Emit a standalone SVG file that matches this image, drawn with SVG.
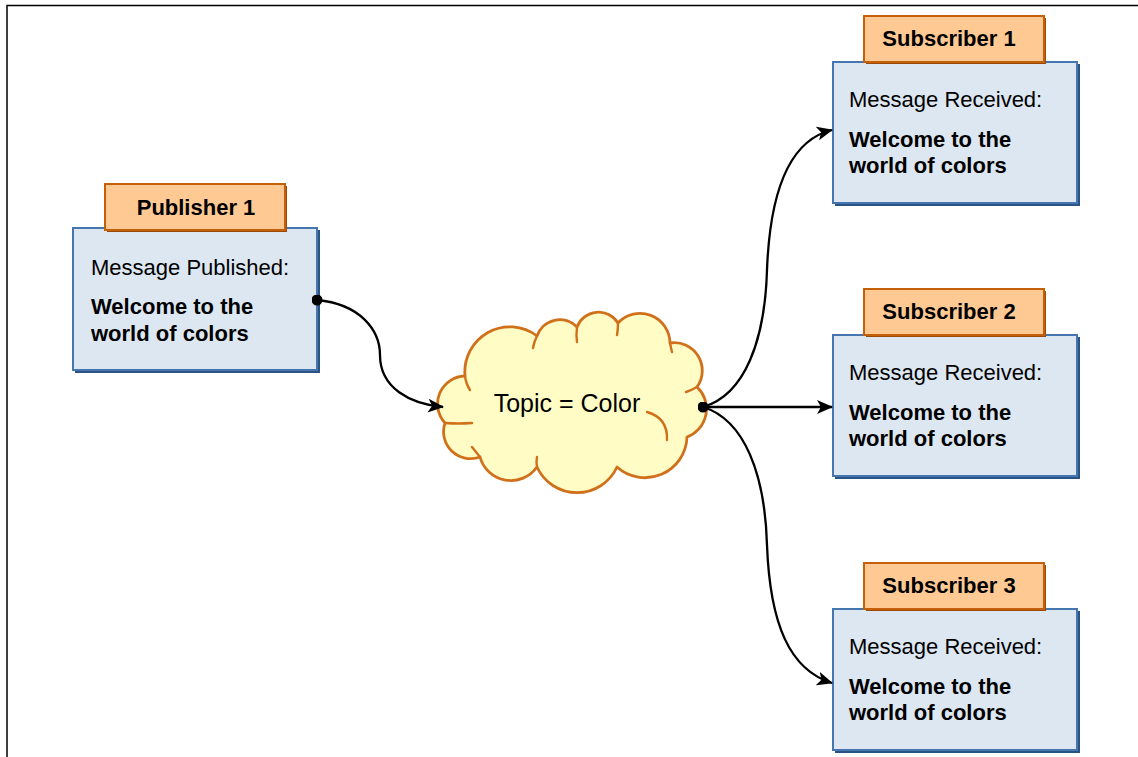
<svg xmlns="http://www.w3.org/2000/svg" width="1138" height="757" viewBox="0 0 1138 757">
  <style>
    .frame { fill: none; stroke: #000; stroke-width: 1.5; }
    .box { fill: #dde7f2; stroke: #4676b0; stroke-width: 2; }
    .box-shade { fill: #2b5383; }
    .tab { fill: #ffc994; stroke: #c5600a; stroke-width: 2; }
    .tab-shade { fill: #9c4a06; }
    .title { font-family: "Liberation Sans", Arial, sans-serif; font-size: 22px; font-weight: bold; fill: #000; text-anchor: middle; }
    .label { font-family: "Liberation Sans", Arial, sans-serif; font-size: 22px; fill: #000; }
    .msg { font-family: "Liberation Sans", Arial, sans-serif; font-size: 22px; font-weight: bold; fill: #000; }
    .cloud { fill: #fffcc6; stroke: #d0701a; stroke-width: 2.8; stroke-linejoin: round; }
    .cloud-line { fill: none; stroke: #d0701a; stroke-width: 2.4; stroke-linecap: round; }
    .topic { font-family: "Liberation Sans", Arial, sans-serif; font-size: 25px; fill: #000; text-anchor: middle; }
    .conn { fill: none; stroke: #000; stroke-width: 2.3; }
  </style>
  <defs>
    <marker id="arrow" viewBox="0 0 16 14" refX="15" refY="7" markerWidth="16" markerHeight="14" markerUnits="userSpaceOnUse" orient="auto">
      <path d="M0,0 L16,7 L0,14 L4,7 Z" fill="#000"/>
    </marker>
    <marker id="dot" viewBox="0 0 11 11" refX="5.5" refY="5.5" markerWidth="11" markerHeight="11" markerUnits="userSpaceOnUse">
      <circle cx="5.5" cy="5.5" r="5.5" fill="#000"/>
    </marker>
  </defs>

  <rect width="1138" height="757" fill="#fff"/>
  <path class="frame" d="M7,757 L7,5.5 L1138,5.5"/>

  <!-- Publisher -->
  <g id="publisher1">
    <rect class="box-shade" x="75" y="230" width="245" height="143"/>
    <rect class="box" x="73" y="228" width="244" height="142"/>
    <rect class="tab-shade" x="107" y="186" width="180" height="46"/>
    <rect class="tab" x="105" y="184" width="180" height="46"/>
    <text class="title" x="196" y="215">Publisher 1</text>
    <text class="label" x="91" y="275">Message Published:</text>
    <text class="msg" x="91" y="314">Welcome to the</text>
    <text class="msg" x="91" y="341">world of colors</text>
  </g>

  <!-- Topic cloud -->
  <g id="topic">
    <path class="cloud" d="M445,423
      A28,28 0 0 1 465,376
      A45,45 0 0 1 537,336
      A24,24 0 0 1 577,327
      A23,23 0 0 1 618,323
      A30,30 0 0 1 670,343
      A28,28 0 0 1 697,387
      A30,30 0 0 1 687,437
      A42,42 0 0 1 617,467
      A44,44 0 0 1 537,467
      A32,32 0 0 1 480,457
      A27,27 0 0 1 445,423 Z"/>
    <path class="cloud-line" d="M465,376 Q466,384 470,390"/>
    <path class="cloud-line" d="M537,336 Q534,342 533,348"/>
    <path class="cloud-line" d="M577,327 Q576,335 577,342"/>
    <path class="cloud-line" d="M618,323 Q618,330 617,335"/>
    <path class="cloud-line" d="M670,343 Q671,348 672,352"/>
    <path class="cloud-line" d="M697,387 Q692,390 686,392"/>
    <path class="cloud-line" d="M647,412 Q668,418 667,440"/>
    <path class="cloud-line" d="M537,467 Q536,462 537,457"/>
    <path class="cloud-line" d="M480,457 Q476,452 472,447"/>
    <path class="cloud-line" d="M445,423 Q458,424 472,423"/>
    <text class="topic" x="567" y="412">Topic = Color</text>
  </g>

  <!-- Subscribers -->
  <g id="subscriber1">
    <rect class="box-shade" x="835" y="64" width="245" height="142"/>
    <rect class="box" x="833" y="62" width="244" height="141"/>
    <rect class="tab-shade" x="866" y="18" width="180" height="46"/>
    <rect class="tab" x="864" y="16" width="180" height="46"/>
    <text class="title" x="949" y="46">Subscriber 1</text>
    <text class="label" x="849" y="107">Message Received:</text>
    <text class="msg" x="849" y="147">Welcome to the</text>
    <text class="msg" x="849" y="173">world of colors</text>
  </g>

  <g id="subscriber2">
    <rect class="box-shade" x="835" y="337" width="245" height="142"/>
    <rect class="box" x="833" y="335" width="244" height="141"/>
    <rect class="tab-shade" x="866" y="291" width="180" height="46"/>
    <rect class="tab" x="864" y="289" width="180" height="46"/>
    <text class="title" x="949" y="319">Subscriber 2</text>
    <text class="label" x="849" y="380">Message Received:</text>
    <text class="msg" x="849" y="420">Welcome to the</text>
    <text class="msg" x="849" y="446">world of colors</text>
  </g>

  <g id="subscriber3">
    <rect class="box-shade" x="835" y="611" width="245" height="142"/>
    <rect class="box" x="833" y="609" width="244" height="141"/>
    <rect class="tab-shade" x="866" y="565" width="180" height="46"/>
    <rect class="tab" x="864" y="563" width="180" height="46"/>
    <text class="title" x="949" y="593">Subscriber 3</text>
    <text class="label" x="849" y="654">Message Received:</text>
    <text class="msg" x="849" y="694">Welcome to the</text>
    <text class="msg" x="849" y="720">world of colors</text>
  </g>

  <!-- Connectors -->
  <g id="connectors">
    <path class="conn" marker-start="url(#dot)" marker-end="url(#arrow)" d="M317,300 C360,304 380,330 380,355 C380,388 410,404 443,407"/>
    <path class="conn" marker-start="url(#dot)" marker-end="url(#arrow)" d="M703,407 C745,395 765,340 767,270 C770,190 790,140 832,130"/>
    <path class="conn" marker-end="url(#arrow)" d="M703,407 L832,407"/>
    <path class="conn" marker-end="url(#arrow)" d="M703,407 C745,420 765,475 767,545 C770,625 790,670 832,683"/>
  </g>
</svg>
